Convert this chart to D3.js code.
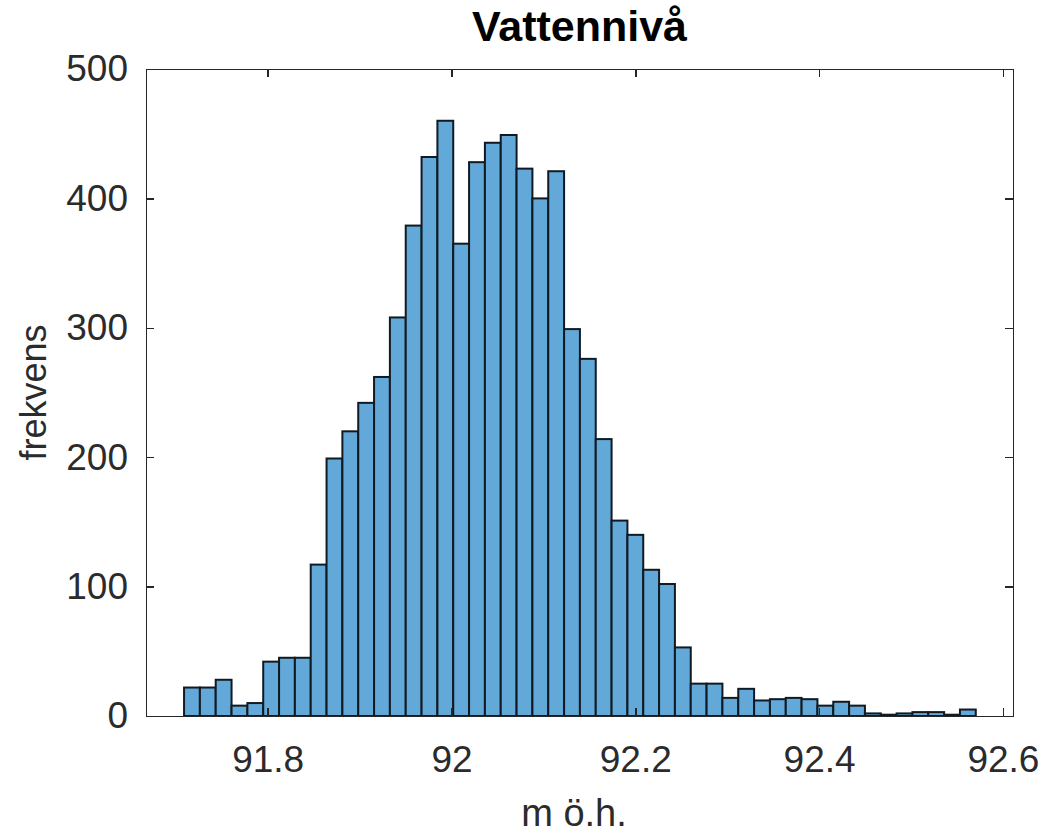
<!DOCTYPE html>
<html>
<head>
<meta charset="utf-8">
<title>Vattennivå</title>
<style>
  body { margin: 0; background: #fff; }
  .axis path, .axis line { stroke: #262626; stroke-width: 1.5px; shape-rendering: crispEdges; }
  .axis text { fill: #2b2b2b; font-family: "Liberation Sans", Arial, sans-serif; font-size: 37px; }
</style>
</head>
<body>
<div class="container"></div>
<script src="https://cdn.jsdelivr.net/npm/d3@7/dist/d3.min.js"></script>
<script>

// histogram: 50 bins
var binStart = 91.709;
var binWidth = 0.01723;
var counts = [22, 22, 28, 8, 10, 42, 45, 45, 117, 199,
              220, 242, 262, 308, 379, 432, 460, 365, 428, 443,
              449, 423, 400, 421, 299, 276, 214, 151, 140, 113,
              102, 53, 25, 25, 14, 21, 12, 13, 14, 13,
              8, 11, 8, 2, 1, 2, 3, 3, 1, 5];
var xTicks = [91.8, 92, 92.2, 92.4, 92.6];
var yTicks = [0, 100, 200, 300, 400, 500];
var xLimits = [91.6676, 92.611];
var yLimits = [0, 500];

var titleText = 'Vattennivå';
var xLabel = 'm ö.h.';
var yLabel = 'frekvens';

var svgWidth = 1043, svgHeight = 833;
var margin = {top: 69, right: 30, bottom: 117, left: 146};
var width = svgWidth - margin.left - margin.right;
var height = svgHeight - margin.top - margin.bottom;

var svg = d3.select('.container')
  .append('svg')
  .attr('width', svgWidth)
  .attr('height', svgHeight);

var x = d3.scaleLinear().domain(xLimits).range([0, width]);
var y = d3.scaleLinear().domain(yLimits).range([height, 0]);

var bins = counts.map(function(c, i) {
  return {x0: binStart + i * binWidth, x1: binStart + (i + 1) * binWidth, n: c};
});

var g = svg.append('g')
  .attr('transform', `translate(${margin.left},${margin.top})`);

g.selectAll('rect.bar')
  .data(bins)
  .enter().append('rect')
  .attr('class', 'bar')
  .attr('x', d => x(d.x0))
  .attr('y', d => y(d.n))
  .attr('width', d => x(d.x1) - x(d.x0))
  .attr('height', d => y(0) - y(d.n))
  .attr('fill', '#62a8d8')
  .attr('stroke', '#111a22')
  .attr('stroke-width', 2);

// box with inward ticks on all four sides
g.append('g')
  .attr('class', 'axis')
  .attr('transform', `translate(0,${height})`)
  .call(d3.axisBottom(x).tickValues(xTicks).tickSizeInner(-8).tickSizeOuter(0)
        .tickPadding(30).tickFormat(d => String(d)));

g.append('g')
  .attr('class', 'axis')
  .call(d3.axisTop(x).tickValues(xTicks).tickSizeInner(-8).tickSizeOuter(0).tickFormat(''));

g.append('g')
  .attr('class', 'axis')
  .call(d3.axisLeft(y).tickValues(yTicks).tickSizeInner(-8).tickSizeOuter(0)
        .tickPadding(18).tickFormat(d => String(d)));

g.append('g')
  .attr('class', 'axis')
  .attr('transform', `translate(${width},0)`)
  .call(d3.axisRight(y).tickValues(yTicks).tickSizeInner(-8).tickSizeOuter(0).tickFormat(''));

svg.append('text')
  .attr('x', margin.left + width / 2)
  .attr('y', 41)
  .attr('text-anchor', 'middle')
  .attr('font-family', '"Liberation Sans", Arial, sans-serif')
  .attr('font-size', 43)
  .attr('font-weight', 'bold')
  .attr('fill', '#000')
  .text(titleText);

svg.append('text')
  .attr('x', 574)
  .attr('y', 826)
  .attr('text-anchor', 'middle')
  .attr('font-family', '"Liberation Sans", Arial, sans-serif')
  .attr('font-size', 38)
  .attr('fill', '#2b2b2b')
  .text(xLabel);

svg.append('text')
  .attr('transform', `translate(46,${margin.top + height / 2}) rotate(-90)`)
  .attr('text-anchor', 'middle')
  .attr('font-family', '"Liberation Sans", Arial, sans-serif')
  .attr('font-size', 36)
  .attr('fill', '#2b2b2b')
  .text(yLabel);

</script>
</body>
</html>
